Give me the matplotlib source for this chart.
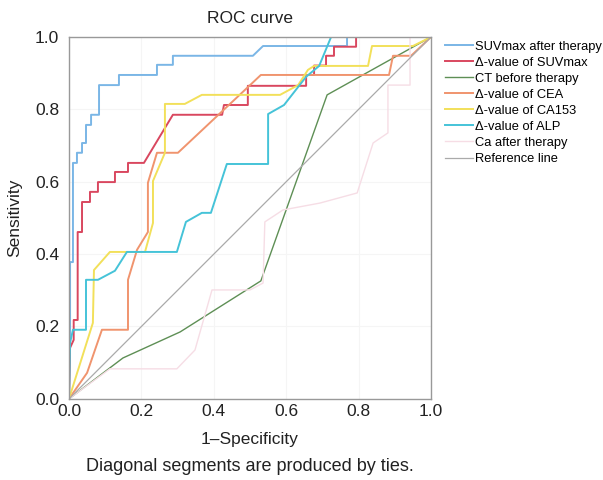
import matplotlib.pyplot as plt

plt.rcParams['font.family'] = ['Liberation Sans', 'DejaVu Sans']

# ROC curves (1-specificity, sensitivity)
suv_after_x = [0, 0.003, 0.003, 0.011, 0.011, 0.022, 0.022, 0.036, 0.036, 0.047, 0.047, 0.061, 0.061, 0.083, 0.083,
               0.138, 0.138, 0.243, 0.243, 0.287, 0.287, 0.508, 0.536, 0.768, 0.768, 1.0]
suv_after_y = [0, 0.155, 0.378, 0.378, 0.652, 0.652, 0.680, 0.680, 0.707, 0.707, 0.757, 0.757, 0.785, 0.785, 0.867,
               0.867, 0.895, 0.895, 0.923, 0.923, 0.948, 0.948, 0.975, 0.975, 1.0, 1.0]

d_suv_x = [0, 0.003, 0.013, 0.013, 0.024, 0.024, 0.036, 0.036, 0.058, 0.058, 0.080, 0.080, 0.127, 0.127, 0.163, 0.163,
           0.207, 0.287, 0.423, 0.428, 0.494, 0.494, 0.655, 0.655, 0.677, 0.677, 0.710, 0.710, 0.732, 0.732, 0.793,
           0.793, 1.0]
d_suv_y = [0, 0.141, 0.163, 0.218, 0.218, 0.461, 0.461, 0.544, 0.544, 0.572, 0.572, 0.599, 0.599, 0.627, 0.627, 0.652,
           0.652, 0.785, 0.785, 0.812, 0.812, 0.865, 0.865, 0.895, 0.895, 0.921, 0.921, 0.948, 0.948, 0.973, 0.973,
           1.0, 1.0]

ct_x = [0, 0.149, 0.307, 0.530, 0.713, 1.0]
ct_y = [0, 0.113, 0.185, 0.326, 0.840, 1.0]

cea_x = [0, 0.050, 0.091, 0.163, 0.163, 0.188, 0.218, 0.218, 0.243, 0.301, 0.530, 0.884, 0.895, 0.945, 1.0]
cea_y = [0, 0.072, 0.191, 0.191, 0.329, 0.412, 0.461, 0.597, 0.680, 0.680, 0.895, 0.895, 0.948, 0.948, 1.0]

ca153_x = [0, 0.066, 0.069, 0.113, 0.210, 0.232, 0.232, 0.265, 0.265, 0.320, 0.367, 0.583, 0.633, 0.660, 0.677,
           0.826, 0.837, 0.950, 1.0]
ca153_y = [0, 0.210, 0.356, 0.406, 0.406, 0.486, 0.602, 0.680, 0.815, 0.815, 0.840, 0.840, 0.867, 0.909, 0.920,
           0.920, 0.975, 0.975, 1.0]

alp_x = [0, 0.003, 0.011, 0.047, 0.047, 0.080, 0.127, 0.160, 0.298, 0.323, 0.367, 0.392, 0.436, 0.550, 0.550, 0.594,
         0.655, 0.691, 0.724, 1.0]
alp_y = [0, 0.155, 0.191, 0.191, 0.329, 0.329, 0.354, 0.406, 0.406, 0.489, 0.514, 0.514, 0.649, 0.649, 0.787, 0.812,
         0.890, 0.920, 1.0, 1.0]

ca_x = [0, 0.113, 0.298, 0.348, 0.395, 0.500, 0.536, 0.541, 0.591, 0.693, 0.796, 0.840, 0.881, 0.881, 0.942, 0.942,
        1.0]
ca_y = [0, 0.083, 0.083, 0.135, 0.301, 0.301, 0.320, 0.489, 0.522, 0.541, 0.569, 0.707, 0.735, 0.867, 0.867, 1.0,
        1.0]

ref_x = [0, 1]
ref_y = [0, 1]

ticks = [0.0, 0.2, 0.4, 0.6, 0.8, 1.0]

fig = plt.figure(figsize=(6.03, 4.8), dpi=100)
ax = fig.add_axes([0.1144, 0.169, 0.6004, 0.754])

ax.plot(suv_after_x, suv_after_y, color='#7ab6e6', lw=1.4, label='SUVmax after therapy')
ax.plot(d_suv_x, d_suv_y, color='#d9475f', lw=1.4, label='Δ-value of SUVmax')
ax.plot(ct_x, ct_y, color='#5e8f55', lw=1.0, label='CT before therapy')
ax.plot(cea_x, cea_y, color='#f0946e', lw=1.4, label='Δ-value of CEA')
ax.plot(ca153_x, ca153_y, color='#f2e05a', lw=1.4, label='Δ-value of CA153')
ax.plot(alp_x, alp_y, color='#45c3d8', lw=1.4, label='Δ-value of ALP')
ax.plot(ca_x, ca_y, color='#f6dde5', lw=1.0, label='Ca after therapy')
ax.plot(ref_x, ref_y, color='#aaaaaa', lw=0.9, label='Reference line')

ax.set_xlim(0, 1)
ax.set_ylim(0, 1)
ax.set_xticks(ticks)
ax.set_yticks(ticks)
ax.tick_params(axis='x', length=0, labelsize=12.5, colors='#222222', pad=4)
ax.tick_params(axis='y', length=0, labelsize=12.5, colors='#222222', pad=7)
ax.grid(True, color='#f5f5f5', lw=0.8)
for s in ax.spines.values():
    s.set_color('#999999')
    s.set_linewidth(1.0)

ax.set_title('ROC curve', fontsize=12.5, color='#222222', pad=10)
ax.set_xlabel('1–Specificity', fontsize=12.5, color='#222222', labelpad=9)
ax.set_ylabel('Sensitivity', fontsize=12.5, color='#222222', labelpad=9)

fig.legend(loc='upper left', bbox_to_anchor=(0.729, 0.926), frameon=False, fontsize=9.3,
           handlelength=2.2, handletextpad=0.12, labelspacing=0.31, borderaxespad=0)
fig.text(0.415, 0.018, 'Diagonal segments are produced by ties.', ha='center', fontsize=13, color='#222222')

plt.savefig('out.png', dpi=100)
